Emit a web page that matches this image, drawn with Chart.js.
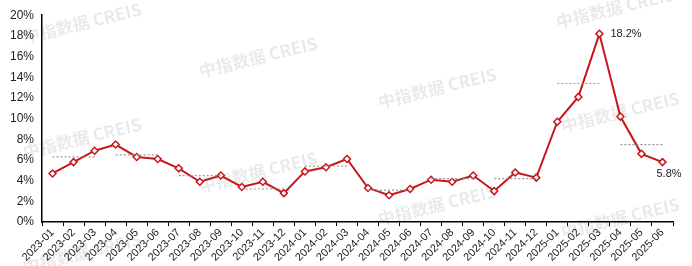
<!DOCTYPE html>
<html>
<head>
<meta charset="utf-8">
<script src="https://cdn.jsdelivr.net/npm/chart.js@4"></script>
<style>
  html, body { margin: 0; padding: 0; background: #fff; }
  #wrap { width: 692px; height: 266px; }
</style>
</head>
<body>
<div id="wrap"><canvas id="grafico"></canvas></div>
<script>
// dados
const meses = ['2023-01', '2023-02', '2023-03', '2023-04', '2023-05', '2023-06',
    '2023-07', '2023-08', '2023-09', '2023-10', '2023-11', '2023-12',
    '2024-01', '2024-02', '2024-03', '2024-04', '2024-05', '2024-06',
    '2024-07', '2024-08', '2024-09', '2024-10', '2024-11', '2024-12',
    '2025-01', '2025-02', '2025-03', '2025-04', '2025-05', '2025-06'];
const valores = [4.7, 5.8, 6.9, 7.5, 6.3, 6.1, 5.2, 3.9, 4.5, 3.4, 3.9, 2.8,
    4.9, 5.3, 6.1, 3.3, 2.6, 3.2, 4.1, 3.9, 4.5, 3.0, 4.8, 4.3,
    9.7, 12.1, 18.2, 10.2, 6.6, 5.8];
const mediaTrimestre = [6.3, 6.5, 4.5, 3.2, 5.4, 3.1, 4.2, 4.2, 13.4, 7.5];
const rotulos = { 26: '18.2%', 29: '5.8%' };
const yMax = 20;
const yPasso = 2;

const vermelho = '#c8161d';
const fonte = '"Liberation Sans", Arial, sans-serif';

// cada trimestre repete a média nos seus três meses
const linhaTrimestre = meses.map((m, i) => mediaTrimestre[Math.floor(i / 3)]);

const marcaDagua = {
    id: 'marcaDagua',
    beforeDatasetsDraw(chart) {
        const ctx = chart.ctx;
        const pos = [[82, 23], [258, 57], [437, 88], [615, 8], [82, 138], [258, 172],
            [437, 205], [620, 112], [82, 253], [620, 218]];
        ctx.save();
        ctx.font = 'bold 17px "Noto Sans CJK SC", sans-serif';
        ctx.fillStyle = 'rgba(0,0,0,0.085)';
        ctx.textAlign = 'center';
        ctx.textBaseline = 'middle';
        pos.forEach(p => {
            ctx.save();
            ctx.translate(p[0], p[1]);
            ctx.rotate(-0.24);
            ctx.fillText('中指数据 CREIS', 0, 0);
            ctx.restore();
        });
        ctx.restore();
    }
};

const rotulosPontos = {
    id: 'rotulosPontos',
    afterDatasetsDraw(chart) {
        const ctx = chart.ctx;
        const meta = chart.getDatasetMeta(1);
        ctx.save();
        ctx.font = '11px ' + fonte;
        ctx.fillStyle = '#222';
        ctx.textBaseline = 'middle';
        ctx.textAlign = 'left';
        Object.keys(rotulos).forEach(k => {
            const pt = meta.data[k];
            if (+k === 29) {
                ctx.fillText(rotulos[k], pt.x - 6, pt.y + 12);
            } else {
                ctx.fillText(rotulos[k], pt.x + 11, pt.y);
            }
        });
        ctx.restore();
    }
};

new Chart(document.getElementById('grafico').getContext('2d'), {
    type: 'line',
    data: {
        labels: meses,
        datasets: [{
            label: '季度均值',
            data: linhaTrimestre,
            borderColor: '#999',
            borderWidth: 1.2,
            borderDash: [2, 2],
            pointRadius: 0,
            fill: false,
            segment: {
                borderColor: c => Math.floor(c.p0DataIndex / 3) === Math.floor(c.p1DataIndex / 3) ? '#999' : 'rgba(0,0,0,0)'
            }
        }, {
            label: '同比',
            data: valores,
            borderColor: vermelho,
            borderWidth: 2,
            pointStyle: 'rectRot',
            pointRadius: 3.5,
            pointBackgroundColor: '#fff',
            pointBorderColor: vermelho,
            pointBorderWidth: 1.5,
            tension: 0,
            fill: false
        }]
    },
    options: {
        responsive: true,
        maintainAspectRatio: false,
        animation: false,
        layout: { padding: { top: 14, right: 19, left: 2, bottom: 2 } },
        plugins: {
            legend: { display: false },
            tooltip: { enabled: false }
        },
        scales: {
            x: {
                offset: true,
                grid: {
                    offset: true,
                    drawOnChartArea: false,
                    color: '#000',
                    tickLength: 4
                },
                border: { color: '#000', width: 1.5 },
                ticks: {
                    maxRotation: 45,
                    minRotation: 45,
                    autoSkip: false,
                    color: '#222',
                    padding: 0,
                    font: { family: fonte, size: 11 }
                }
            },
            y: {
                min: 0,
                max: yMax,
                grid: { drawOnChartArea: false, drawTicks: false },
                border: { color: '#000', width: 1.5 },
                ticks: {
                    stepSize: yPasso,
                    color: '#222',
                    padding: 8,
                    font: { family: fonte, size: 12 },
                    callback: v => v + '%'
                }
            }
        }
    },
    plugins: [marcaDagua, rotulosPontos]
});
</script>
</body>
</html>
